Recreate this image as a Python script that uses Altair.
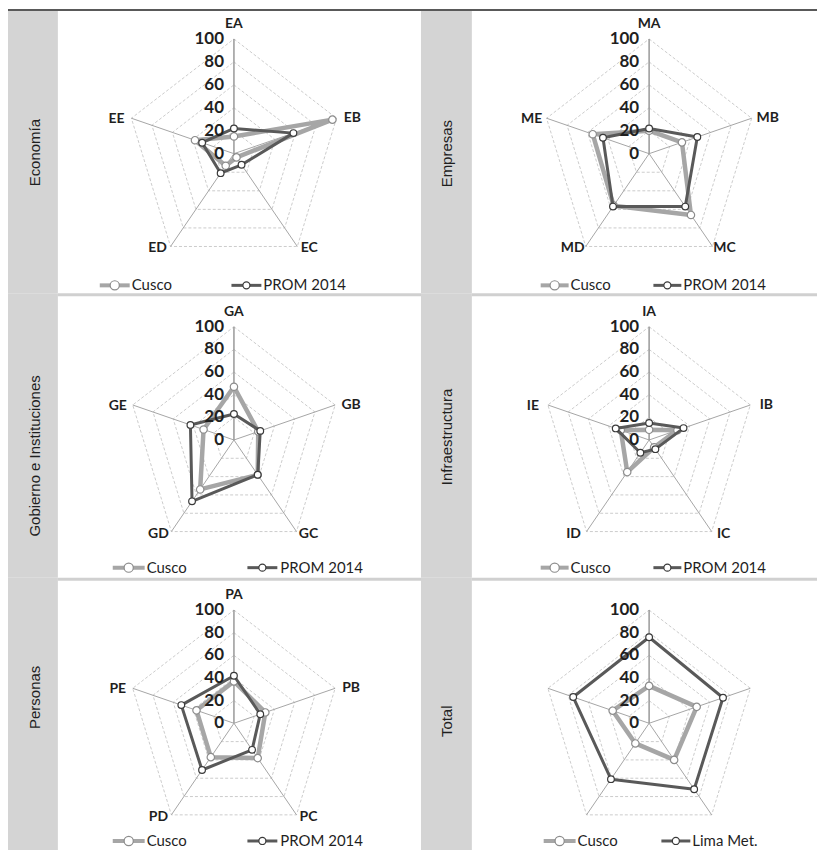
import altair as alt
import numpy as np
import pandas as pd

# ---------------- data ----------------
ticks = [0, 20, 40, 60, 80, 100]

econ_cats = ["EA", "EB", "EC", "ED", "EE"]
econ_cusco = [15, 96, 4, 13, 38]
econ_prom = [22, 58, 12, 21, 31]

emp_cats = ["MA", "MB", "MC", "MD", "ME"]
emp_cusco = [20, 32, 66, 56, 55]
emp_prom = [22, 47, 57, 57, 45]

gob_cats = ["GA", "GB", "GC", "GD", "GE"]
gob_cusco = [47, 24, 38, 54, 30]
gob_prom = [23, 26, 38, 67, 43]

inf_cats = ["IA", "IB", "IC", "ID", "IE"]
inf_cusco = [9, 28, 8, 35, 28]
inf_prom = [15, 34, 10, 14, 33]

per_cats = ["PA", "PB", "PC", "PD", "PE"]
per_cusco = [37, 31, 38, 37, 37]
per_prom = [42, 26, 29, 51, 52]

tot_cats = ["", "", "", "", ""]
tot_cusco = [33, 47, 40, 22, 36]
tot_lima = [76, 73, 72, 61, 75]

names_prom = ["Cusco", "PROM 2014"]
names_lima = ["Cusco", "Lima Met."]
panel_titles = ["Economía", "Empresas", "Gobierno e Instituciones",
                "Infraestructura", "Personas", "Total"]

# ---------------- layout (page pixel coordinates) ----------------
# rows: (top, height, centre y, radius px)
ROWS = [(10, 283, 153, 115), (293, 285, 440, 113.5), (578, 273, 724, 113.5)]
# cols: (sidebar left, sidebar width, cell left, cell width, centre x)
COLS = [(8, 50, 58, 364, 234.5), (422, 51, 473, 346, 650.7)]
XCOMP = 0.94
SIDE_TEXT_Y = [[152, 153], [456, 437], [698, 722]]
LEGEND = {
    (0, 0): (285, [(100, 130, 132), (232, 262, 264)]),
    (0, 1): (285, [(542, 570, 572), (655, 683, 685)]),
    (1, 0): (568, [(113, 145, 147), (248, 278, 281)]),
    (1, 1): (568, [(542, 570, 572), (655, 683, 685)]),
    (2, 0): (842, [(113, 145, 147), (248, 278, 281)]),
    (2, 1): (842, [(545, 577, 579), (663, 692, 694)]),
}
LABEL_OFF = [(0, -15), (16, 0), (12, 2), (-13, 2), (-15, 1)]

LIGHT = "#a6a6a6"
DARK = "#595959"
SIDE = "#d4d4d4"
TXT = "#1f1f1f"


def radar_cell(cats, s1, s2, names, r, c, sep):
    top, H, cyp, R = ROWS[r]
    _, _, left, W, cxp = COLS[c]
    cx, cy = cxp - left, cyp - top
    ky = R / 100.0
    kx = XCOMP * R / 100.0
    X = alt.X("x:Q", scale=alt.Scale(domain=[-cx / kx, (W - cx) / kx], nice=False, zero=False), axis=None)
    Y = alt.Y("y:Q", scale=alt.Scale(domain=[-(H - cy) / ky, cy / ky], nice=False, zero=False), axis=None)
    ang = np.arange(5) * 2 * np.pi / 5

    def ux(px):
        return (px - cxp) / kx

    def uy(py):
        return (cyp - py) / ky

    grid = pd.DataFrame([
        {"x": lv * np.sin(ang[i % 5]), "y": lv * np.cos(ang[i % 5]), "lv": lv, "i": i}
        for lv in ticks[1:] for i in range(6)
    ])
    spokes = pd.DataFrame([
        {"x": v * np.sin(ang[k]), "y": v * np.cos(ang[k]), "k": k, "i": j}
        for k in range(1, 5) for j, v in enumerate([0, 100])
    ])
    axis_spoke = pd.DataFrame({"x": [0, 0], "y": [0, 100], "i": [0, 1]})
    tick_df = pd.DataFrame({"x": [0] * len(ticks), "y": ticks, "t": [str(t) for t in ticks]})
    lab_df = pd.DataFrame([
        {"x": 100 * np.sin(ang[k]) + LABEL_OFF[k][0] / kx,
         "y": 100 * np.cos(ang[k]) - LABEL_OFF[k][1] / ky, "t": cats[k]}
        for k in range(5) if cats[k]
    ])

    def series_df(vals):
        return pd.DataFrame([
            {"x": vals[i % 5] * np.sin(ang[i % 5]), "y": vals[i % 5] * np.cos(ang[i % 5]), "i": i}
            for i in range(6)
        ])

    layers = []
    if sep:
        layers.append(alt.Chart(pd.DataFrame({"a": [0]})).mark_rule(color="#d0d0d0", strokeWidth=3).encode(
            x=alt.value(0), x2=alt.value(W), y=alt.value(1.5)))
    layers.append(alt.Chart(grid).mark_line(color="#bfbfbf", strokeWidth=0.8, strokeDash=[3, 2]).encode(
        X, Y, detail="lv:N", order="i:Q"))
    layers.append(alt.Chart(spokes).mark_line(color="#a6a6a6", strokeWidth=1).encode(
        X, Y, detail="k:N", order="i:Q"))
    layers.append(alt.Chart(axis_spoke).mark_line(color="#999999", strokeWidth=1.5).encode(
        X, Y, order="i:Q"))

    styles = [(LIGHT, 4.5, "#8c8c8c", 55), (DARK, 3, "#3a3a3a", 45)]
    for vals, (col, sw, pst, psz) in zip([s1, s2], styles):
        d = series_df(vals)
        layers.append(alt.Chart(d).mark_line(color=col, strokeWidth=sw, strokeJoin="round").encode(
            X, Y, order="i:Q"))
        layers.append(alt.Chart(d[d.i < 5]).mark_point(shape="circle", filled=True, fill="white",
                                                     stroke=pst, strokeWidth=1.2, size=psz,
                                                     opacity=1).encode(X, Y))

    layers.append(alt.Chart(tick_df).mark_text(align="right", baseline="middle", dx=-10, font="Lato",
                                               fontWeight="bold", fontSize=17, color=TXT).encode(
        X, Y, text="t:N"))
    if len(lab_df):
        layers.append(alt.Chart(lab_df).mark_text(align="center", baseline="middle", font="Lato",
                                                  fontWeight="bold", fontSize=14, color=TXT).encode(
            X, Y, text="t:N"))

    # legend
    ly, items = LEGEND[(r, c)]
    leg_styles = [(LIGHT, 4, "#8c8c8c", 85), (DARK, 3, "#3a3a3a", 50)]
    for (x0, x1, xt), name, (col, sw, pst, psz) in zip(items, names, leg_styles):
        seg = pd.DataFrame({"x": [ux(x0), ux(x1)], "y": [uy(ly), uy(ly)], "i": [0, 1]})
        layers.append(alt.Chart(seg).mark_line(color=col, strokeWidth=sw).encode(X, Y, order="i:Q"))
        dot = pd.DataFrame({"x": [ux((x0 + x1) / 2)], "y": [uy(ly)]})
        layers.append(alt.Chart(dot).mark_point(shape="circle", filled=True, fill="white", stroke=pst,
                                                strokeWidth=1.2, size=psz, opacity=1).encode(X, Y))
        tx = pd.DataFrame({"x": [ux(xt)], "y": [uy(ly)], "t": [name]})
        layers.append(alt.Chart(tx).mark_text(align="left", baseline="middle", font="Lato", fontSize=15,
                                              color=TXT).encode(X, Y, text="t:N"))

    return alt.layer(*layers).properties(width=W, height=H)


def sidebar(label, r, c):
    top, H, _, _ = ROWS[r]
    _, sw, _, _, _ = COLS[c]
    ty = SIDE_TEXT_Y[r][c] - top
    return alt.Chart(pd.DataFrame({"t": [label]})).mark_text(
        angle=270, align="center", baseline="middle", font="Liberation Sans", fontSize=15, color=TXT
    ).encode(text="t:N", x=alt.value(27 if c == 0 else 26), y=alt.value(ty)).properties(
        width=sw, height=H, view=alt.ViewBackground(fill=SIDE, stroke=None))


panels = [
    (econ_cats, econ_cusco, econ_prom, names_prom),
    (emp_cats, emp_cusco, emp_prom, names_prom),
    (gob_cats, gob_cusco, gob_prom, names_prom),
    (inf_cats, inf_cusco, inf_prom, names_prom),
    (per_cats, per_cusco, per_prom, names_prom),
    (tot_cats, tot_cusco, tot_lima, names_lima),
]

rows = []
for r in range(3):
    cells = []
    for c in range(2):
        p = panels[2 * r + c]
        cells.append(sidebar(panel_titles[2 * r + c], r, c))
        cells.append(radar_cell(p[0], p[1], p[2], p[3], r, c, sep=(r > 0)))
    rows.append(alt.hconcat(*cells, spacing=0, bounds="flush"))

total_w = sum(cw[1] + cw[3] for cw in COLS)
topbar = alt.Chart(pd.DataFrame({"a": [0]})).mark_rect(color="#595959").encode(
    x=alt.value(0), x2=alt.value(total_w), y=alt.value(0), y2=alt.value(2)
).properties(width=total_w, height=2)

chart = alt.vconcat(topbar, *rows, spacing=0).properties(
    padding=0, background="white"
).configure_view(stroke=None)

chart.save("out.html", embed_options={"renderer": "svg", "actions": False})
